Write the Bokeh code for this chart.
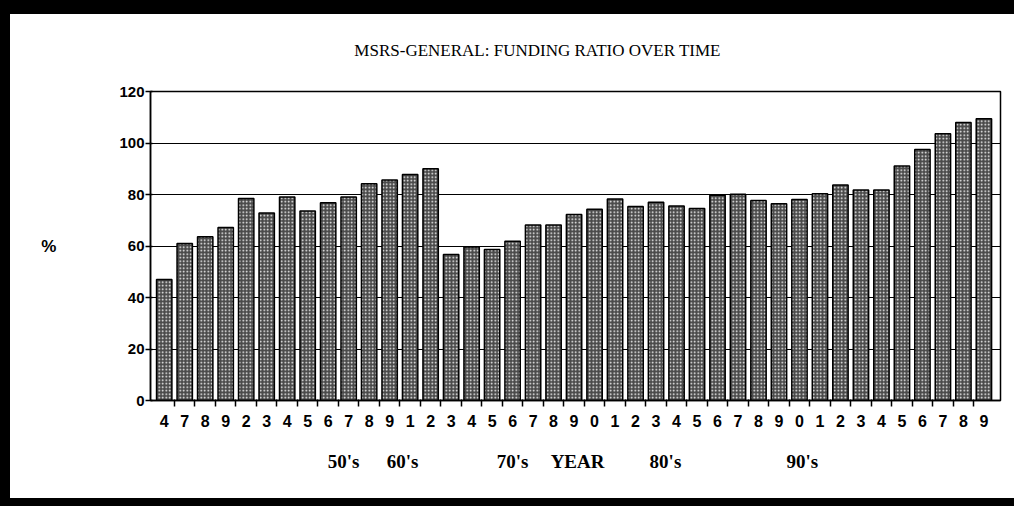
from bokeh.plotting import figure
from bokeh.models import Range1d, FixedTicker, LinearAxis, Div
from bokeh.layouts import column, row
from bokeh.embed import file_html
from bokeh.resources import INLINE

# ---- data ----
year_labels = ["4", "7", "8", "9", "2", "3", "4", "5", "6", "7", "8", "9", "1", "2",
               "3", "4", "5", "6", "7", "8", "9", "0", "1", "2", "3", "4", "5", "6",
               "7", "8", "9", "0", "1", "2", "3", "4", "5", "6", "7", "8", "9"]
funding_ratio = [47, 61, 63.6, 67.2, 78.4, 72.8, 79, 73.6, 76.8, 79, 84.2, 85.6, 87.8, 90,
                 56.7, 59.6, 58.6, 61.8, 68.2, 68.2, 72.2, 74.3, 78.3, 75.3, 77, 75.5, 74.6,
                 79.7, 80.1, 77.7, 76.4, 78.1, 80.3, 83.7, 81.7, 81.7, 91.1, 97.5, 103.6, 108, 109.4]
y_ticks = [0, 20, 40, 60, 80, 100, 120]
decade_labels = ["50's", "60's", "70's", "YEAR", "80's", "90's"]
decade_label_x = [9.25, 12.13, 17.5, 20.67, 24.96, 31.64]
title_text = "MSRS-GENERAL: FUNDING RATIO OVER TIME"
title_x = 18.72

n = len(funding_ratio)
centers = [i + 0.5 for i in range(n)]
boundaries = [float(i) for i in range(1, n)]

W, H = 1004, 484
p = figure(width=W, height=H, x_range=Range1d(-0.17, 41.31), y_range=Range1d(0, 120),
           output_backend="svg", toolbar_location=None,
           min_border_left=140, min_border_right=14, min_border_top=77, min_border_bottom=98)
p.background_fill_color = "white"
p.border_fill_color = "white"
p.outline_line_color = "black"
p.outline_line_width = 1.5

p.xgrid.visible = False
p.ygrid.ticker = FixedTicker(ticks=[20, 40, 60, 80, 100])
p.ygrid.grid_line_color = "black"
p.ygrid.grid_line_width = 1.2
p.ygrid.grid_line_alpha = 1.0

p.vbar(x=centers, top=funding_ratio, width=0.75, bottom=0,
       fill_color="#4a4a4a", line_color="black", line_width=1.5,
       hatch_pattern="dot", hatch_color="white", hatch_scale=3.5, hatch_weight=1.0)

# y axis
p.yaxis.ticker = FixedTicker(ticks=y_ticks)
p.yaxis.major_label_text_font = "Liberation Sans"
p.yaxis.major_label_text_font_style = "bold"
p.yaxis.major_label_text_font_size = "15px"
p.yaxis.major_label_text_color = "black"
p.yaxis.axis_line_color = "black"
p.yaxis.axis_line_width = 1.5
p.yaxis.major_tick_line_color = "black"
p.yaxis.major_tick_line_width = 1.5
p.yaxis.major_tick_out = 5
p.yaxis.major_tick_in = 2
p.yaxis.minor_tick_line_color = None
p.yaxis.major_label_standoff = 1
p.yaxis.axis_label = "%"
p.yaxis.axis_label_orientation = "horizontal"
p.yaxis.axis_label_text_font = "Liberation Sans"
p.yaxis.axis_label_text_font_style = "bold"
p.yaxis.axis_label_text_font_size = "17px"
p.yaxis.axis_label_text_color = "black"
p.yaxis.axis_label_standoff = 60

# x axis (years)
p.xaxis.ticker = FixedTicker(ticks=centers, minor_ticks=boundaries)
p.xaxis.major_label_overrides = {c: lab for c, lab in zip(centers, year_labels)}
p.xaxis.major_label_text_font = "Liberation Sans"
p.xaxis.major_label_text_font_style = "bold"
p.xaxis.major_label_text_font_size = "16px"
p.xaxis.major_label_text_color = "black"
p.xaxis.major_tick_out = 0
p.xaxis.major_tick_in = 0
p.xaxis.minor_tick_out = 6
p.xaxis.minor_tick_in = 1
p.xaxis.minor_tick_line_color = "black"
p.xaxis.minor_tick_line_width = 1.5
p.xaxis.axis_line_color = "black"
p.xaxis.axis_line_width = 1.5
p.xaxis.major_label_standoff = 8

# decade labels as a second bottom axis
dec_axis = LinearAxis(ticker=FixedTicker(ticks=decade_label_x, minor_ticks=[]),
                      major_label_overrides={x: t for x, t in zip(decade_label_x, decade_labels)})
dec_axis.axis_line_color = None
dec_axis.major_tick_line_color = None
dec_axis.minor_tick_line_color = None
dec_axis.major_label_text_font = "Liberation Serif"
dec_axis.major_label_text_font_style = "bold"
dec_axis.major_label_text_font_size = "19px"
dec_axis.major_label_text_color = "black"
dec_axis.major_label_standoff = 15
p.add_layout(dec_axis, "below")

# title as a top axis label
title_axis = LinearAxis(ticker=FixedTicker(ticks=[title_x], minor_ticks=[]),
                        major_label_overrides={title_x: title_text})
title_axis.axis_line_color = None
title_axis.major_tick_line_color = None
title_axis.minor_tick_line_color = None
title_axis.major_label_text_font = "Liberation Serif"
title_axis.major_label_text_font_size = "17px"
title_axis.major_label_text_color = "black"
title_axis.major_label_standoff = 26
p.add_layout(title_axis, "above")

# black scan frame bands
def band(w, h):
    return Div(text="", width=w, height=h, margin=0,
               styles={"background-color": "black"})

layout = column(band(1014, 14), row(band(10, H), p, spacing=0), band(1014, 8), spacing=0)

open("out.html", "w").write(file_html(layout, INLINE))
